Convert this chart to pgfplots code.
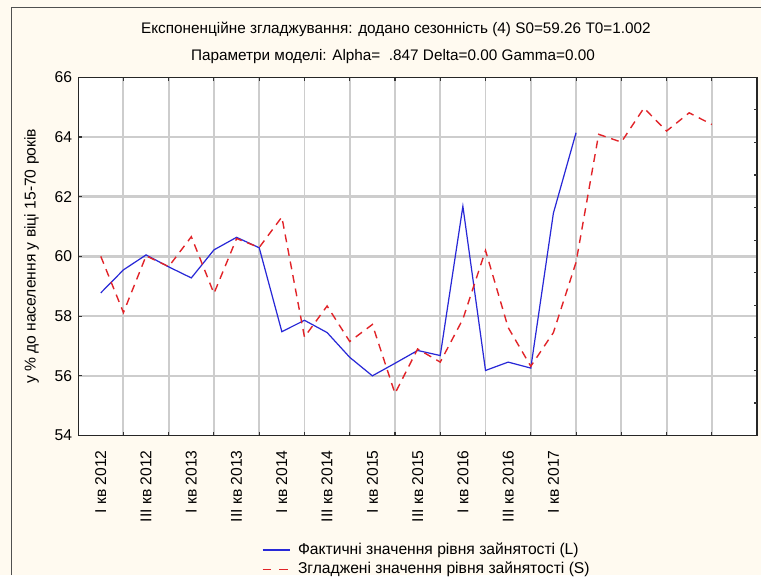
\documentclass[border=0pt]{standalone}
\usepackage{fontspec}
\setmainfont{Liberation Sans}
\usepackage{pgfplots}
\pgfplotsset{compat=1.18}
\definecolor{bgcream}{RGB}{255,250,240}
\definecolor{framegray}{RGB}{80,80,80}
\definecolor{gridgray}{RGB}{205,205,205}
\definecolor{lblue}{RGB}{40,40,215}
\definecolor{lred}{RGB}{225,35,40}

\pgfplotstableread{
i val
0 58.78
1 59.55
2 60.05
3 59.65
4 59.28
5 60.22
6 60.64
7 60.29
8 57.48
9 57.86
10 57.45
11 56.62
12 56.00
13 56.42
14 56.85
15 56.68
16 61.68
17 56.18
18 56.46
19 56.26
20 61.45
21 64.14
}\actual

\pgfplotstableread{
i val
0 60.00
1 58.12
2 60.02
3 59.66
4 60.66
5 58.76
6 60.60
7 60.30
8 61.32
9 57.30
10 58.34
11 57.15
12 57.72
13 55.41
14 56.90
15 56.46
16 57.90
17 60.20
18 57.62
19 56.32
20 57.45
21 59.80
22 64.09
23 63.83
24 64.97
25 64.20
26 64.81
27 64.42
}\smoothed

\pgfplotsset{panel/.style={
  at={(1.58cm,2.82cm)}, anchor=south west,
  scale only axis, width=13.72cm, height=7.24cm,
  xmin=-1, xmax=29}}

\begin{document}
\begin{tikzpicture}[font=\fontsize{9}{10.8}\selectfont]
% window background (1px = 0.02cm)
\begin{scope}[x=0.02cm,y=0.02cm]
\fill[bgcream] (0,0) rectangle (769,581);
\draw[framegray,line width=0.8pt] (11.7,0) -- (11.7,573.3) -- (769,573.3);
\node[font=\fontsize{8.8}{10}\selectfont] at (400,551) {Експоненційне згладжування: додано сезонність (4) S0=59.26 T0=1.002};
\node[font=\fontsize{8.8}{10}\selectfont] at (397,524) {Параметри моделі: Alpha=\ \ .847 Delta=0.00 Gamma=0.00};
\end{scope}

% grid layer
\begin{axis}[panel, ymin=54, ymax=66,
  axis background/.style={fill=white},
  axis line style={draw=none},
  xtick={1,3,...,27}, ytick={56,58,...,64},
  xticklabels={}, yticklabels={},
  xmajorgrids, grid style={gridgray,line width=1.1pt},
  major tick length=0pt]
\addplot[gridgray,line width=1.5pt] coordinates {(-1,56) (29,56)};
\addplot[gridgray,line width=1.5pt] coordinates {(-1,58) (29,58)};
\addplot[gridgray,line width=1.5pt] coordinates {(-1,60) (29,60)};
\addplot[gridgray,line width=1.5pt] coordinates {(-1,62) (29,62)};
\addplot[gridgray,line width=1.5pt] coordinates {(-1,64) (29,64)};
\end{axis}

% main axis
\begin{axis}[panel, ymin=54, ymax=66,
  axis line style={black!85,line width=0.7pt},
  ytick={54,56,...,66}, ytick pos=left,
  xtick={0,2,...,20},
  xticklabels={I кв 2012,III кв 2012,I кв 2013,III кв 2013,I кв 2014,III кв 2014,I кв 2015,III кв 2015,I кв 2016,III кв 2016,I кв 2017},
  xticklabel style={rotate=90,anchor=east,xshift=-5pt},
  minor xtick={1,3,...,27}, xtick pos=both,
  major tick length=0.08cm, minor tick length=0.08cm,
  tick style={black!80,line width=0.6pt},
  major x tick style={draw=none},
  tick label style={font=\fontsize{9}{10.8}\selectfont},
  /pgf/number format/assume math mode=true,
  ylabel={у \% до населення у віці 15-70 років},
  ylabel style={at={(axis description cs:-0.0685,0.5)},anchor=center},
  legend style={at={(axis description cs:0.2625,-0.279)},anchor=north west,
    draw=none,fill=none,font=\fontsize{9}{10.8}\selectfont,row sep=-1pt,
    nodes={inner xsep=4pt}},
  legend cell align=left,
]
\addplot[lblue,line width=0.7pt,legend image code/.code={\draw[lblue,line width=0.7pt] (0cm,0cm) -- (0.56cm,0cm);}] table[x=i,y=val] {\actual};
\addlegendentry{Фактичні значення рівня зайнятості (L)}
\addplot[lred,line width=0.8pt,dash pattern=on 4.5pt off 3.4pt,legend image code/.code={\draw[lred,line width=0.8pt,dash pattern=on 5pt off 4.5pt] (0cm,0cm) -- (0.56cm,0cm);}] table[x=i,y=val] {\smoothed};
\addlegendentry{Згладжені значення рівня зайнятості (S)}
\end{axis}

% right-hand tick marks
\begin{axis}[panel, ymin=0, ymax=11,
  axis x line=none, axis y line*=right,
  y axis line style={draw=none},
  ytick={1,...,10}, yticklabels={},
  major tick length=0.07cm,
  tick style={black!80,line width=0.6pt},
]
\addplot[draw=none] coordinates {(0,0)};
\end{axis}
\end{tikzpicture}
\end{document}
